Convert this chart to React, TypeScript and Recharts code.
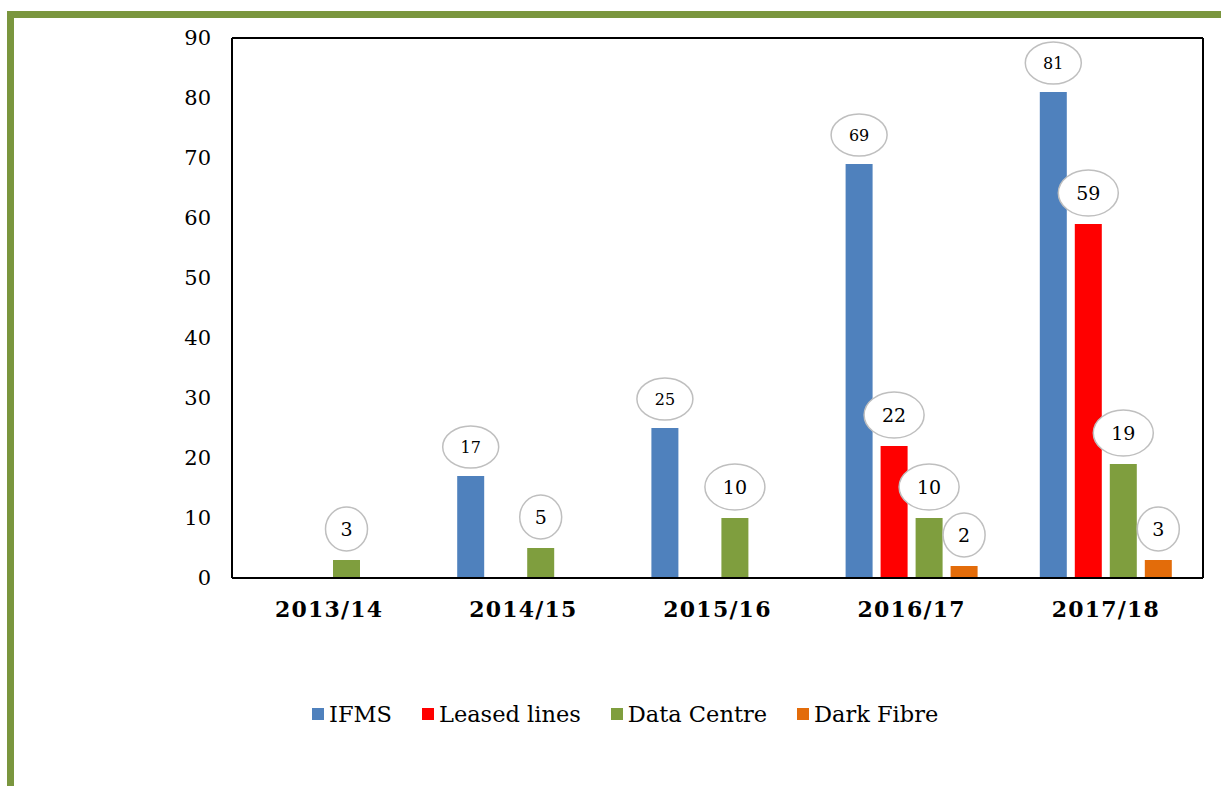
import { BarChart, Bar, XAxis, YAxis, Legend, LabelList } from 'recharts';

const years = ['2013/14', '2014/15', '2015/16', '2016/17', '2017/18'];
const ifms = [null, 17, 25, 69, 81];
const leasedLines = [null, null, null, 22, 59];
const dataCentre = [3, 5, 10, 10, 19];
const darkFibre = [null, null, null, 2, 3];
const yTicks = [0, 10, 20, 30, 40, 50, 60, 70, 80, 90];

const SERIES = [
  { key: 'ifms', name: 'IFMS', color: '#4F81BD', small: true },
  { key: 'leased', name: 'Leased lines', color: '#FF0000', small: false },
  { key: 'dc', name: 'Data Centre', color: '#7F9E3E', small: false },
  { key: 'dark', name: 'Dark Fibre', color: '#E36C0A', small: false },
];

const FONT = '"DejaVu Serif", serif';

const data = years.map((year, i) => ({
  year,
  ifms: ifms[i],
  leased: leasedLines[i],
  dc: dataCentre[i],
  dark: darkFibre[i],
}));

// callout bubble above each bar, like the Excel "wedge ellipse" labels
function makeBubble(small: boolean) {
  return function Bubble(props: any) {
    const { x, y, width, value } = props;
    if (value === null || value === undefined) return null;
    const cx = Number(x) + Number(width) / 2;
    const text = String(value);
    const rx = small ? 28 : text.length > 1 ? 30 : 21;
    const ry = small ? 21 : text.length > 1 ? 23 : 22;
    const cy = Number(y) - (small ? 29 : 31);
    return (
      <g>
        <ellipse cx={cx} cy={cy} rx={rx} ry={ry} fill="#fff" stroke="#BFBFBF" strokeWidth={1.5} />
        <text
          x={cx}
          y={cy}
          dy="0.36em"
          textAnchor="middle"
          fontFamily={FONT}
          fontSize={small ? 16 : 19}
          fill="#000"
        >
          {text}
        </text>
      </g>
    );
  };
}

function LegendRow() {
  return (
    <div style={{ display: 'flex', alignItems: 'center', fontFamily: FONT, fontSize: 22.5, color: '#000', whiteSpace: 'nowrap' }}>
      {SERIES.map((s, i) => (
        <div key={s.key} style={{ display: 'flex', alignItems: 'center', marginRight: i < SERIES.length - 1 ? 30 : 0 }}>
          <span style={{ display: 'inline-block', width: 12, height: 12, background: s.color, marginRight: 5 }} />
          <span>{s.name}</span>
        </div>
      ))}
    </div>
  );
}

export default function App() {
  return (
    <div style={{ position: 'absolute', left: 0, top: 0, width: 1221, height: 786, background: '#fff' }}>
      <div style={{ position: 'absolute', left: 7, top: 11, width: 1214, height: 7, background: '#7A963E' }} />
      <div style={{ position: 'absolute', left: 7, top: 11, width: 7, height: 775, background: '#7A963E' }} />
      <div style={{ position: 'absolute', left: 0, top: 0 }}>
        <BarChart
          width={1221}
          height={786}
          data={data}
          margin={{ top: 37, right: 17, left: 172, bottom: 168 }}
          barSize={27}
          barGap={8}
        >
          <XAxis
            dataKey="year"
            height={40}
            tickLine={false}
            tickSize={0}
            tickMargin={23}
            axisLine={{ stroke: '#000', strokeWidth: 2 }}
            tick={{ fill: '#000', fontFamily: FONT, fontWeight: 'bold', fontSize: 22, letterSpacing: 1.2 }}
          />
          <XAxis
            xAxisId="top"
            dataKey="year"
            orientation="top"
            height={1}
            tick={false}
            tickLine={false}
            axisLine={{ stroke: '#000', strokeWidth: 2 }}
          />
          <YAxis
            yAxisId="left"
            width={60}
            domain={[0, 90]}
            ticks={yTicks}
            interval={0}
            tickLine={false}
            tickSize={0}
            tickMargin={21}
            axisLine={{ stroke: '#000', strokeWidth: 2 }}
            tick={{ fill: '#000', fontFamily: FONT, fontSize: 21 }}
          />
          <YAxis
            yAxisId="right"
            orientation="right"
            width={1}
            domain={[0, 90]}
            tick={false}
            tickLine={false}
            axisLine={{ stroke: '#000', strokeWidth: 2 }}
          />
          <Legend
            layout="horizontal"
            verticalAlign="middle"
            align="center"
            content={() => <LegendRow />}
            wrapperStyle={{ top: 701, left: 312, width: 'auto' }}
          />
          {SERIES.map((s) => (
            <Bar key={s.key} xAxisId={0} yAxisId="left" dataKey={s.key} name={s.name} fill={s.color} isAnimationActive={false}>
              <LabelList dataKey={s.key} content={makeBubble(s.small)} />
            </Bar>
          ))}
        </BarChart>
      </div>
    </div>
  );
}
